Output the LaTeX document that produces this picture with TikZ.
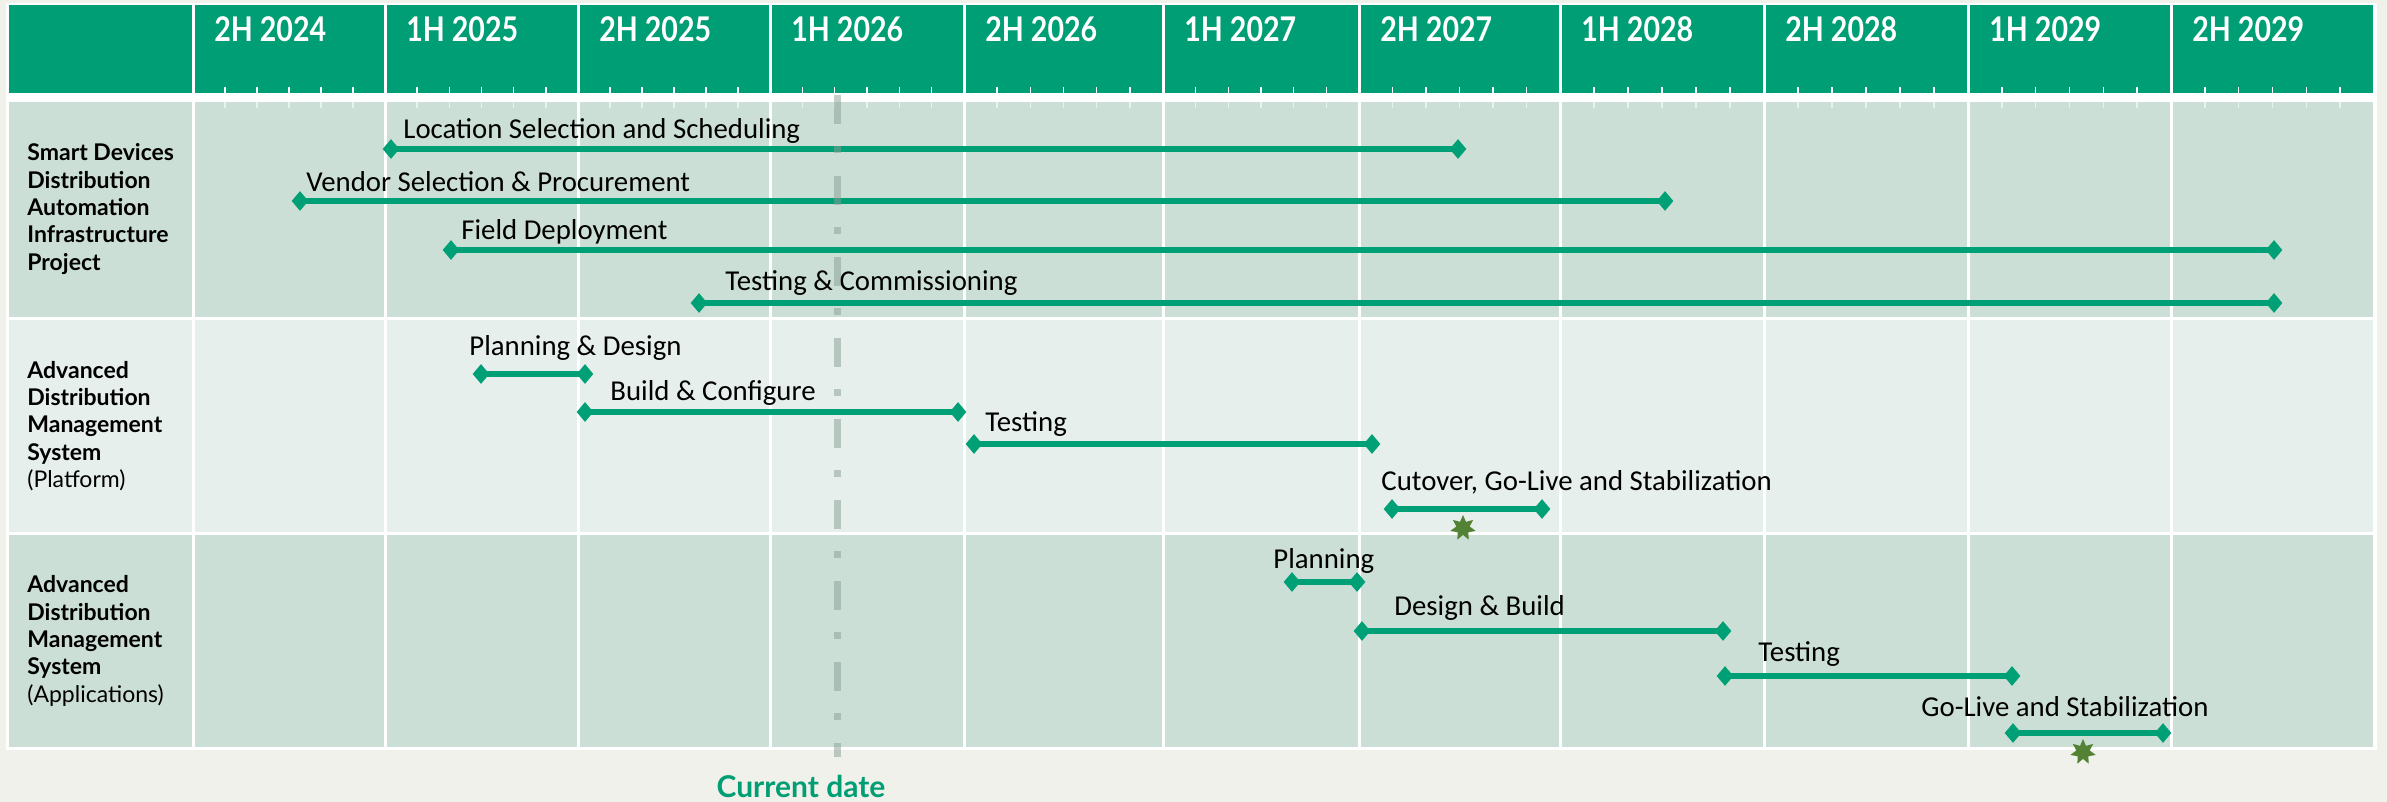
\documentclass[tikz,border=0pt]{standalone}
\usepackage{fontspec}
\setmainfont{Carlito}
\newfontfamily\latofont{Lato}
\usetikzlibrary{shapes.geometric,positioning}

\definecolor{pagebg}{RGB}{240,241,234}
\definecolor{headgreen}{RGB}{0,158,116}
\definecolor{bargreen}{RGB}{0,160,118}
\definecolor{rowdark}{RGB}{204,223,214}
\definecolor{rowlight}{RGB}{230,239,236}
\definecolor{nowgray}{RGB}{136,159,148}
\definecolor{stargreen}{RGB}{84,130,53}

\begin{document}
\begin{tikzpicture}[
	x=0.5pt, y=-0.5pt,
	headnode/.style={anchor=base west, inner sep=0, text=white, font=\latofont\bfseries\fontsize{17}{20}\selectfont},
	groupnode/.style={anchor=west, align=left, inner sep=0, font=\latofont\fontsize{11.5}{13.7}\selectfont},
	tasknode/.style={anchor=base west, inner sep=0, font=\fontsize{14.4}{17}\selectfont},
	endnode/.style={diamond, fill=bargreen, inner sep=0, minimum width=8.5pt, minimum height=10pt},
	starnode/.style={star, star points=7, star point ratio=1.9, fill=stargreen, inner sep=0, minimum size=13pt},
	taskbar/.style={draw=bargreen, line width=3pt},
	]
	%Grid
	\useasboundingbox (0,0) rectangle (2387,802);
	\fill[pagebg] (0,0) rectangle (2387,802);
	\fill[white] (6,3) rectangle (2377,750);
	\foreach \a/\b in {7/193,193/385,385/578,578/770,770/964,964/1163,1163/1359,1359/1560,1560/1764,1764/1968,1968/2171,2171/2374}{
		\fill[headgreen] (\a+1.5,5) rectangle (\b-1.5,93);
		\fill[rowdark] (\a+1.5,102) rectangle (\b-1.5,317);
		\fill[rowlight] (\a+1.5,320) rectangle (\b-1.5,532);
		\fill[rowdark] (\a+1.5,535) rectangle (\b-1.5,747);
	}
	\foreach \a/\b/\lab in {193/385/2H 2024,385/578/1H 2025,578/770/2H 2025,770/964/1H 2026,964/1163/2H 2026,1163/1359/1H 2027,1359/1560/2H 2027,1560/1764/1H 2028,1764/1968/2H 2028,1968/2171/1H 2029,2171/2374/2H 2029}{
		\node[headnode] at (\a+21,42) {\scalebox{0.84}[1]{\lab}};
		\foreach \k in {1,...,5}{
			\draw[white, line width=0.8pt] ({\a+\k*(\b-\a)/6},87) -- ++(0,6);
			\draw[white, opacity=0.6, line width=0.8pt] ({\a+\k*(\b-\a)/6},102) -- ++(0,6);
		}
	}
	
	%Nodes
	\node[groupnode] (sd)  at (27,209) {\textbf{Smart Devices}\\\textbf{Distribution}\\\textbf{Automation}\\\textbf{Infrastructure}\\\textbf{Project}};
	\node[groupnode] (adp) at (27,426) {\textbf{Advanced}\\\textbf{Distribution}\\\textbf{Management}\\\textbf{System}\\(Platform)};
	\node[groupnode] (ada) at (27,641) {\textbf{Advanced}\\\textbf{Distribution}\\\textbf{Management}\\\textbf{System}\\(Applications)};
	
	\node[endnode]  (loc-s) at (391,149)  {};
	\node[endnode]  (loc-e) at (1458,149) {};
	\node[tasknode] (loc)   at (403,139)  {Location Selection and Scheduling};
	\node[endnode]  (ven-s) at (300,201)  {};
	\node[endnode]  (ven-e) at (1665,201) {};
	\node[tasknode] (ven)   at (306,192)  {Vendor Selection \& Procurement};
	\node[endnode]  (fld-s) at (451,250)  {};
	\node[endnode]  (fld-e) at (2274,250) {};
	\node[tasknode] (fld)   at (461,240)  {Field Deployment};
	\node[endnode]  (com-s) at (699,303)  {};
	\node[endnode]  (com-e) at (2274,303) {};
	\node[tasknode] (com)   at (725,291)  {Testing \& Commissioning};
	
	\node[endnode]  (pd-s)  at (481,374)  {};
	\node[endnode]  (pd-e)  at (585,374)  {};
	\node[tasknode] (pd)    at (469,355)  {Planning \& Design};
	\node[endnode]  (bc-s)  at (585,412)  {};
	\node[endnode]  (bc-e)  at (958,412)  {};
	\node[tasknode] (bc)    at (610,400)  {Build \& Configure};
	\node[endnode]  (pt-s)  at (974,444)  {};
	\node[endnode]  (pt-e)  at (1372,444) {};
	\node[tasknode] (pt)    at (985,431)  {Testing};
	\node[endnode]  (cut-s) at (1392,509) {};
	\node[endnode]  (cut-e) at (1542,509) {};
	\node[tasknode] (cut)   at (1381,490) {Cutover, Go-Live and Stabilization};
	\node[starnode] (go1)   at (1463,528) {};
	
	\node[endnode]  (pl-s)  at (1292,582) {};
	\node[endnode]  (pl-e)  at (1357,582) {};
	\node[tasknode] (pl)    at (1273,568) {Planning};
	\node[endnode]  (db-s)  at (1362,631) {};
	\node[endnode]  (db-e)  at (1723,631) {};
	\node[tasknode] (db)    at (1394,615) {Design \& Build};
	\node[endnode]  (at-s)  at (1725,676) {};
	\node[endnode]  (at-e)  at (2012,676) {};
	\node[tasknode] (at)    at (1758,661) {Testing};
	\node[endnode]  (gl-s)  at (2013,733) {};
	\node[endnode]  (gl-e)  at (2163,733) {};
	\node[tasknode] (gl)    at (1921,716) {Go-Live and Stabilization};
	\node[starnode] (go2)   at (2083,752) {};
	
	\coordinate (now-top) at (837,95);
	\coordinate (now-bot) at (837,757);
	\node[anchor=base, inner sep=0, text=headgreen, font=\latofont\bfseries\fontsize{15}{18}\selectfont] (now) at (801,797) {Current date};
	
	%Lines
	\draw[taskbar] (loc-s.center) -- (loc-e.center);
	\draw[taskbar] (ven-s.center) -- (ven-e.center);
	\draw[taskbar] (fld-s.center) -- (fld-e.center);
	\draw[taskbar] (com-s.center) -- (com-e.center);
	\draw[taskbar] (pd-s.center) -- (pd-e.center);
	\draw[taskbar] (bc-s.center) -- (bc-e.center);
	\draw[taskbar] (pt-s.center) -- (pt-e.center);
	\draw[taskbar] (cut-s.center) -- (cut-e.center);
	\draw[taskbar] (pl-s.center) -- (pl-e.center);
	\draw[taskbar] (db-s.center) -- (db-e.center);
	\draw[taskbar] (at-s.center) -- (at-e.center);
	\draw[taskbar] (gl-s.center) -- (gl-e.center);
	\draw[nowgray, opacity=0.5, line width=3.5pt, dash pattern=on 14.5pt off 11pt on 3.5pt off 11.5pt] (now-top) -- (now-bot);
\end{tikzpicture}
\end{document}
